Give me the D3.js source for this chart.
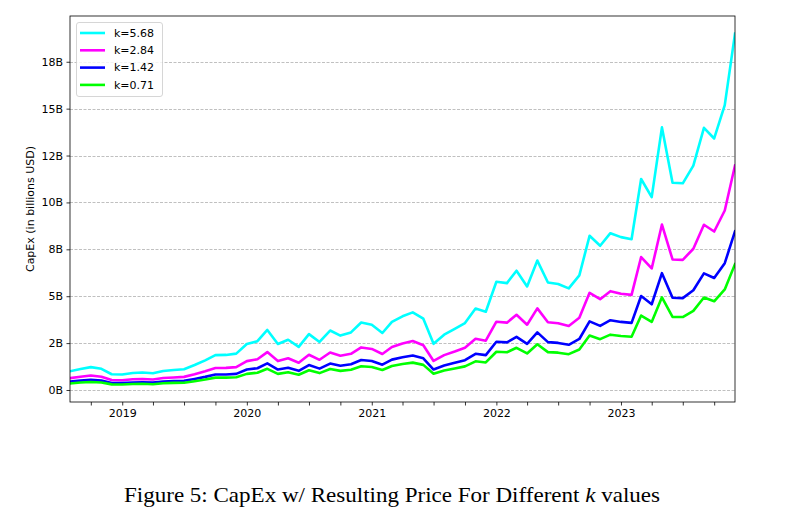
<!DOCTYPE html>
<html><head><meta charset="utf-8">
<script src="https://cdn.jsdelivr.net/npm/d3@7"></script>
<style>body{margin:0;background:#fff}svg{display:block}</style>
</head><body>
<svg id="c" width="787" height="528"></svg>
<script>
const startMonth = "2018-08";
const seriesLabels = ["k=5.68", "k=2.84", "k=1.42", "k=0.71"];
const seriesColors = ["#00ffff", "#ff00ff", "#0000ff", "#00ff00"];
const k568 = [1.00,1.12,1.22,1.13,0.84,0.83,0.91,0.93,0.89,1.01,1.07,1.11,1.33,1.58,1.86,1.87,1.94,2.45,2.60,3.20,2.45,2.68,2.30,2.98,2.56,3.17,2.90,3.07,3.60,3.48,3.04,3.63,3.93,4.14,3.80,2.46,2.95,3.26,3.57,4.34,4.17,5.77,5.70,6.36,5.52,6.90,5.73,5.65,5.42,6.11,8.22,7.69,8.36,8.15,8.04,11.25,10.28,14.00,11.05,11.02,11.96,13.98,13.41,15.19,19.00];
const k284 = [0.63,0.71,0.77,0.71,0.53,0.52,0.57,0.59,0.56,0.64,0.67,0.70,0.84,1.00,1.17,1.18,1.22,1.54,1.64,2.02,1.54,1.69,1.45,1.88,1.61,2.00,1.83,1.93,2.27,2.19,1.92,2.29,2.48,2.61,2.39,1.55,1.86,2.05,2.25,2.73,2.63,3.64,3.59,4.01,3.48,4.35,3.61,3.56,3.41,3.85,5.18,4.84,5.27,5.13,5.07,7.09,6.48,8.82,6.96,6.94,7.53,8.81,8.45,9.57,11.97];
const k142 = [0.45,0.50,0.54,0.50,0.37,0.37,0.40,0.41,0.40,0.45,0.48,0.49,0.59,0.70,0.83,0.83,0.86,1.09,1.16,1.42,1.09,1.19,1.02,1.33,1.14,1.41,1.29,1.37,1.60,1.55,1.35,1.62,1.75,1.84,1.69,1.09,1.31,1.45,1.59,1.93,1.86,2.57,2.54,2.83,2.46,3.07,2.55,2.51,2.41,2.72,3.66,3.42,3.72,3.63,3.58,5.01,4.57,6.23,4.92,4.90,5.32,6.22,5.97,6.76,8.46];
const k071 = [0.35,0.40,0.43,0.40,0.30,0.29,0.32,0.33,0.31,0.36,0.38,0.39,0.47,0.56,0.66,0.66,0.68,0.86,0.92,1.13,0.86,0.95,0.81,1.05,0.90,1.12,1.02,1.08,1.27,1.23,1.07,1.28,1.39,1.46,1.34,0.87,1.04,1.15,1.26,1.53,1.47,2.04,2.01,2.25,1.95,2.44,2.02,1.99,1.91,2.16,2.90,2.71,2.95,2.88,2.84,3.97,3.63,4.94,3.90,3.89,4.22,4.93,4.73,5.36,6.71];
const yTickValues = [0, 2.5, 5, 7.5, 10, 12.5, 15, 17.5];
const yTickLabels = ["0B", "2B", "5B", "8B", "10B", "12B", "15B", "18B"];
const yLabel = "CapEx (in billions USD)";
const caption = "Figure 5: CapEx w/ Resulting Price For Different ";
const captionK = "k";
const captionEnd = " values";

const allSeries = [k568, k284, k142, k071];
const parse = d3.timeParse("%Y-%m");
const t0 = parse(startMonth);
const dates = k568.map((_, i) => d3.timeMonth.offset(t0, i));

const L = 70, R = 735, T = 16, B = 402;
const svg = d3.select("#c");
const x = d3.scaleTime().domain([dates[0], dates[dates.length - 1]]).range([L, R]);
const y = d3.scaleLinear().domain([-0.64, 19.94]).range([B, T]);

const font = "DejaVu Sans, sans-serif";
const fs = 11;

// grid
svg.append("g").selectAll("line").data(yTickValues).join("line")
  .attr("x1", L).attr("x2", R)
  .attr("y1", d => Math.round(y(d)) + 0.5).attr("y2", d => Math.round(y(d)) + 0.5)
  .attr("stroke", "#b0b0b0").attr("stroke-width", 0.8).attr("stroke-dasharray", "3,1.5");

// lines
const line = d3.line().x((d, i) => x(dates[i])).y(d => y(d));
svg.append("clipPath").attr("id", "clp").append("rect")
  .attr("x", L).attr("y", T).attr("width", R - L).attr("height", B - T);
svg.append("g").attr("clip-path", "url(#clp)").selectAll("path").data(allSeries).join("path")
  .attr("d", d => line(d)).attr("fill", "none")
  .attr("stroke", (d, i) => seriesColors[i]).attr("stroke-width", 2.6)
  .attr("stroke-linejoin", "round").attr("stroke-linecap", "square");

// axes
const xTicks = d3.timeMonth.every(3).range(dates[0], d3.timeMonth.offset(dates[dates.length - 1], 1));
const xAxis = d3.axisBottom(x).tickValues(xTicks)
  .tickFormat(d => d.getMonth() === 0 ? d3.timeFormat("%Y")(d) : "")
  .tickSize(3.5).tickPadding(3.5);
const gx = svg.append("g").attr("transform", `translate(0,${B})`).call(xAxis);
gx.select(".domain").remove();
gx.selectAll("text").attr("font-family", font).attr("font-size", fs).attr("fill", "#000");
gx.selectAll("line").attr("stroke", "#000").attr("stroke-width", 0.8);

const yAxis = d3.axisLeft(y).tickValues(yTickValues)
  .tickFormat((d, i) => yTickLabels[i]).tickSize(3.5).tickPadding(3.5);
const gy = svg.append("g").attr("transform", `translate(${L},0)`).call(yAxis);
gy.select(".domain").remove();
gy.selectAll("text").attr("font-family", font).attr("font-size", fs).attr("fill", "#000");
gy.selectAll("line").attr("stroke", "#000").attr("stroke-width", 0.8);

// frame
svg.append("rect").attr("x", L).attr("y", T).attr("width", R - L).attr("height", B - T)
  .attr("fill", "none").attr("stroke", "#000").attr("stroke-width", 0.8);

// y label
svg.append("text").attr("transform", `translate(34,${(T + B) / 2}) rotate(-90)`)
  .attr("text-anchor", "middle").attr("font-family", font).attr("font-size", fs)
  .text(yLabel);

// legend
const lg = svg.append("g").attr("transform", `translate(${L + 6},${T + 6})`);
lg.append("rect").attr("x", 0.5).attr("y", 0.5).attr("width", 86).attr("height", 74)
  .attr("rx", 2.5).attr("fill", "#fff").attr("fill-opacity", 0.8)
  .attr("stroke", "#cccccc").attr("stroke-width", 0.8);
seriesLabels.forEach((lab, i) => {
  const yy = 11 + i * 17.3;
  lg.append("line").attr("x1", 4).attr("x2", 29).attr("y1", yy).attr("y2", yy)
    .attr("stroke", seriesColors[i]).attr("stroke-width", 2.6);
  lg.append("text").attr("x", 38).attr("y", yy).attr("dy", "0.35em")
    .attr("font-family", font).attr("font-size", fs).text(lab);
});

// caption
const cap = svg.append("text").attr("x", 392).attr("y", 502).attr("text-anchor", "middle")
  .attr("font-family", "Liberation Serif, DejaVu Serif, serif").attr("font-size", 21)
  .attr("textLength", 536).attr("lengthAdjust", "spacingAndGlyphs").attr("fill", "#000");
cap.append("tspan").text(caption);
cap.append("tspan").attr("font-style", "italic").text(captionK);
cap.append("tspan").text(captionEnd);
</script>
</body></html>
